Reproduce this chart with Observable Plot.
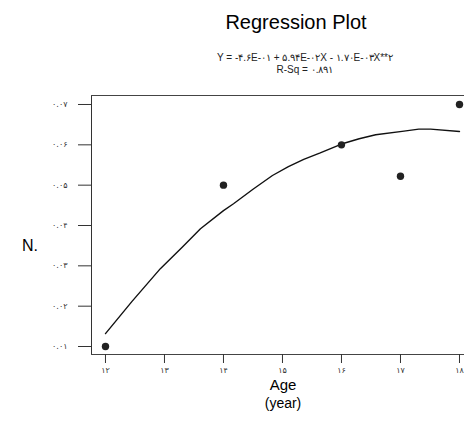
<!DOCTYPE html>
<html><head><meta charset="utf-8">
<script src="https://cdn.jsdelivr.net/npm/d3@7"></script>
<script src="https://cdn.jsdelivr.net/npm/@observablehq/plot@0.6"></script>
<style>
html,body{margin:0;padding:0;background:#fff;overflow:hidden}
#wrap{position:relative;width:464px;height:425px;font-family:"Liberation Sans",Arial,sans-serif;color:#000}
.t{position:absolute;white-space:nowrap;z-index:2}
.c{text-align:center}
#chart{position:absolute;left:0;top:85px;z-index:1}
</style></head><body>
<div id="wrap">
  <div id="chart"></div>
  <div class="t c" id="title" style="left:146px;width:300px;top:12px;font-size:20px;line-height:20px"></div>
  <div class="t c" id="eq" style="left:155px;width:300px;top:53px;font-size:10px;line-height:10px;color:#222"></div>
  <div class="t c" id="rsq" style="left:155px;width:300px;top:65px;font-size:10px;line-height:10px;color:#222"></div>
  <div class="t" id="ylab" style="left:22px;top:238px;font-size:16px;line-height:16px"></div>
  <div class="t c" id="xlab" style="left:183px;width:200px;top:377px;font-size:15px;line-height:15px"></div>
  <div class="t c" id="xunit" style="left:183px;width:200px;top:396px;font-size:14px;line-height:14px"></div>
</div>
<script>
const title = "Regression Plot";
const equation = "Y = -۴.۶E-۰۱ + ۵.۹۴E-۰۲X - ۱.۷۰E-۰۳X**۲";
const rsq = "R-Sq = ۰.۸۹۱";
const yLabel = "N.";
const xLabel = "Age";
const xUnit = "(year)";

const pointAge = [12, 14, 16, 17, 18];
const pointN = [0.01, 0.05, 0.06, 0.0522, 0.07];

const fitAge = [12, 12.45, 12.93, 13.3, 13.61, 14, 14.17, 14.5, 14.83, 15.1, 15.36, 15.64, 16, 16.3, 16.58, 17.06, 17.31, 17.51, 18];
const fitN = [0.0132, 0.0212, 0.0293, 0.0346, 0.0392, 0.0437, 0.0454, 0.049, 0.0524, 0.0546, 0.0564, 0.0580, 0.0602, 0.0615, 0.0625, 0.0634, 0.0639, 0.0639, 0.0633];

const xTicks = [12, 13, 14, 15, 16, 17, 18];
const xTickLabels = ["۱۲", "۱۳", "۱۴", "۱۵", "۱۶", "۱۷", "۱۸"];
const yTicks = [0.01, 0.02, 0.03, 0.04, 0.05, 0.06, 0.07];
const yTickLabels = ["۰.۰۱", "۰.۰۲", "۰.۰۳", "۰.۰۴", "۰.۰۵", "۰.۰۶", "۰.۰۷"];

const xDomain = [11.763, 18.085];
const yDomain = [0.00802, 0.07223];

document.getElementById("title").textContent = title;
document.getElementById("eq").textContent = equation;
document.getElementById("rsq").textContent = rsq;
document.getElementById("ylab").textContent = yLabel;
document.getElementById("xlab").textContent = xLabel;
document.getElementById("xunit").textContent = xUnit;

const points = pointAge.map((a, i) => ({age: a, n: pointN[i]}));
const fit = fitAge.map((a, i) => ({age: a, n: fitN[i]}));
const lookup = (ticks, labels) => d => {
  const i = ticks.findIndex(v => Math.abs(v - d) < 1e-9);
  return i >= 0 ? labels[i] : "";
};

const chart = Plot.plot({
  width: 464, height: 340,
  marginTop: 10, marginBottom: 71, marginLeft: 91, marginRight: 0,
  style: {fontFamily: "DejaVu Sans", fontSize: "8px", background: "transparent", overflow: "visible"},
  x: {domain: xDomain, label: null},
  y: {domain: yDomain, label: null},
  marks: [
    Plot.ruleX([xDomain[0]], {stroke: "#333"}),
    Plot.ruleY(yDomain, {stroke: "#444"}),
    Plot.axisX({ticks: xTicks, tickFormat: lookup(xTicks, xTickLabels), tickSize: 9, tickPadding: 4, color: "#333", label: null}),
    Plot.axisY({ticks: yTicks, tickFormat: lookup(yTicks, yTickLabels), tickSize: 13, tickPadding: 11, color: "#333", label: null}),
    Plot.line(fit, {x: "age", y: "n", stroke: "#111", strokeWidth: 1.4}),
    Plot.dot(points, {x: "age", y: "n", r: 3.7, fill: "#222", stroke: "none"})
  ]
});
document.getElementById("chart").appendChild(chart);
</script>
</body></html>
